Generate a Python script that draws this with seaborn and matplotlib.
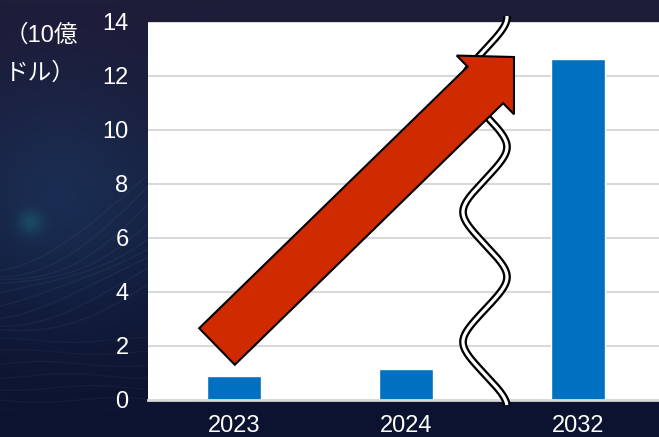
import numpy as np
import pandas as pd
import matplotlib
matplotlib.use("Agg")
import matplotlib.pyplot as plt
import seaborn as sns
from matplotlib.patches import Polygon
from matplotlib.transforms import Affine2D

# Market size (billion USD)
years = ["2023", "2024", "2032"]
values = [0.89, 1.15, 12.6]
y_ticks = [0, 2, 4, 6, 8, 10, 12, 14]
unit_lines = ["（10億", "ドル）"]

W, H = 659, 437
sns.set_style("white")
plt.rcParams["font.family"] = ["Liberation Sans", "Noto Sans CJK JP"]

fig = plt.figure(figsize=(W / 100, H / 100), dpi=100)

# ---- dark textured backdrop ----
bg_ax = fig.add_axes([0, 0, 1, 1], zorder=-10)
yy, xx = np.mgrid[0:H, 0:W].astype(float)
t = yy / H
top = np.array([30, 29, 58]) / 255
bot = np.array([11, 19, 48]) / 255
img = top[None, None, :] * (1 - t[..., None]) + bot[None, None, :] * t[..., None]
blue = np.exp(-(((xx - 60) / 120) ** 2 + ((yy - 200) / 110) ** 2))
img += blue[..., None] * (np.array([4, 20, 28]) / 255)
glow = np.exp(-(((xx - 30) / 12) ** 2 + ((yy - 222) / 12) ** 2))
img += glow[..., None] * (np.array([5, 30, 22]) / 255)
img = np.clip(img, 0, 1)
bg_ax.imshow(img, extent=[0, W, H, 0], aspect="auto", interpolation="bilinear")
bg_ax.set_xlim(0, W)
bg_ax.set_ylim(H, 0)
bg_ax.axis("off")
# faint strands of the backdrop
for k in range(9):
    xs = np.linspace(-20, 160, 60)
    ys = 330 - 8 * k - 0.0025 * (xs + 20) ** 2 * (0.6 + 0.08 * k) + 6 * np.sin(xs / 40 + k)
    bg_ax.plot(xs, ys, color="#c8cde6", alpha=0.05, lw=1)
for k in range(6):
    xs = np.linspace(-10, 160, 60)
    ys = 400 - 12 * k + 0.3 * np.sin(xs / 25 + k) * 8
    bg_ax.plot(xs, ys, color="#c8cde6", alpha=0.04, lw=1)

# ---- bar chart ----
ax = fig.add_axes([148 / W, (H - 400) / H, 516 / W, 378.5 / H])
df = pd.DataFrame({"year": years, "value": values})
sns.barplot(data=df, x="year", y="value", color="#0070C0", width=0.31,
            saturation=1, ax=ax, zorder=2)
ax.set_facecolor("white")
ax.set_ylim(0, 14)
ax.set_xlim(-0.5, 2.5)
ax.set_yticks(y_ticks)
ax.set_xlabel("")
ax.set_ylabel("")
ax.grid(axis="y", color="#D9D9D9", lw=1.5)
ax.grid(axis="x", visible=False)
ax.set_axisbelow(True)
for s in ["top", "left", "right"]:
    ax.spines[s].set_visible(False)
ax.spines["bottom"].set_color("#D9D9D9")
ax.spines["bottom"].set_linewidth(2)
ax.tick_params(axis="both", length=0, labelcolor="white", labelsize=17)
ax.tick_params(axis="y", pad=14)
ax.tick_params(axis="x", pad=10.5)

for i, line in enumerate(unit_lines):
    fig.text(5 / W, 1 - (35 + 39 * i) / H, line, color="white", fontsize=17,
             ha="left", va="center")

# pixel-space transform (origin top-left)
px = Affine2D().scale(1 / W, -1 / H).translate(0, 1) + fig.transFigure

# ---- axis-break wave (double line) ----
yw = np.linspace(16, 405, 600)
theta = 2 * np.pi * (yw - 17) / 130
kk = 0.75
tri = np.arcsin(kk * np.cos(theta)) / np.arcsin(kk)
xw = 485 + 22 * tri
ax.plot(xw, yw, color="black", lw=5.6, transform=px, clip_on=False,
        solid_capstyle="butt", zorder=5)
ax.plot(xw, yw, color="white", lw=2.3, transform=px, clip_on=False,
        solid_capstyle="butt", zorder=6)

# ---- growth arrow ----
tail = np.array([217.0, 346.5])
tip = np.array([514.0, 57.0])
u = (tip - tail) / np.linalg.norm(tip - tail)
n = np.array([u[1], -u[0]])
head_len, head_half, shaft_half = 40.0, 41.0, 25.5
base = tip - u * head_len
pts = [tail + n * shaft_half, base + n * shaft_half, base + n * head_half, tip,
       base - n * head_half, base - n * shaft_half, tail - n * shaft_half]
arrow = Polygon(pts, closed=True, facecolor="#D02B00", edgecolor="black",
                lw=1.5, transform=px, clip_on=False, zorder=7, joinstyle="miter")
ax.add_patch(arrow)

fig.savefig("out.png", dpi=100)
